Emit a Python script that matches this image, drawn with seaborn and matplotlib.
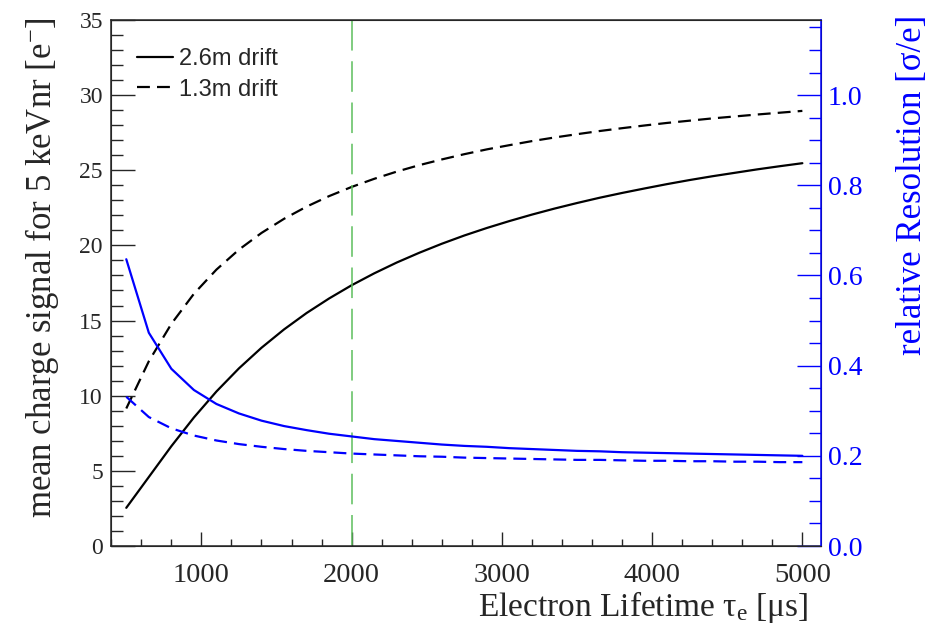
import numpy as np
import pandas as pd
import matplotlib
matplotlib.use("Agg")
import matplotlib.pyplot as plt
from matplotlib.ticker import MultipleLocator, FormatStrFormatter
import seaborn as sns

# ---- data ----
lifetime = [500, 650, 800, 950, 1100, 1250, 1400, 1550, 1700, 1850, 2000,
            2150, 2300, 2450, 2600, 2750, 2900, 3050, 3200, 3350, 3500,
            3650, 3800, 3950, 4100, 4250, 4400, 4550, 4700, 4850, 5000]
charge_26 = [2.54, 4.59, 6.64, 8.55, 10.28, 11.82, 13.19, 14.41, 15.50, 16.47, 17.35,
             18.14, 18.86, 19.51, 20.11, 20.66, 21.16, 21.62, 22.05, 22.45, 22.82,
             23.17, 23.49, 23.79, 24.08, 24.35, 24.60, 24.83, 25.06, 25.27, 25.47]
charge_13 = [9.15, 12.29, 14.78, 16.78, 18.39, 19.72, 20.83, 21.77, 22.58, 23.28, 23.89,
             24.43, 24.91, 25.34, 25.72, 26.07, 26.39, 26.67, 26.94, 27.18, 27.40,
             27.61, 27.80, 27.98, 28.15, 28.30, 28.45, 28.58, 28.71, 28.83, 28.95]
res_26 = [0.636, 0.473, 0.393, 0.346, 0.315, 0.294, 0.278, 0.266, 0.257, 0.249, 0.243,
          0.237, 0.233, 0.229, 0.225, 0.222, 0.220, 0.217, 0.215, 0.213, 0.211,
          0.210, 0.208, 0.207, 0.206, 0.205, 0.204, 0.203, 0.202, 0.201, 0.200]
res_13 = [0.331, 0.286, 0.261, 0.245, 0.234, 0.226, 0.220, 0.215, 0.211, 0.208, 0.205,
          0.203, 0.201, 0.199, 0.198, 0.196, 0.195, 0.194, 0.193, 0.192, 0.191,
          0.191, 0.190, 0.189, 0.189, 0.188, 0.188, 0.187, 0.187, 0.186, 0.186]
marker_lifetime = 2000
series_labels = ["2.6m drift", "1.3m drift"]

df = pd.DataFrame({"tau": lifetime, "q26": charge_26, "q13": charge_13,
                   "r26": res_26, "r13": res_13})

sns.set_style("ticks")
plt.rcParams["font.family"] = ["Liberation Serif", "DejaVu Serif"]
plt.rcParams["mathtext.fontset"] = "custom"
plt.rcParams["mathtext.rm"] = "Liberation Serif"
plt.rcParams["mathtext.it"] = "Liberation Serif:italic"

BLUE = "#0000ff"
fig = plt.figure(figsize=(9.31, 6.24), dpi=100)
ax = fig.add_axes([0.1195, 0.125, 0.7625, 0.843])
ax2 = ax.twinx()

sns.lineplot(data=df, x="tau", y="q26", ax=ax, color="black", lw=1.6, label=series_labels[0])
sns.lineplot(data=df, x="tau", y="q13", ax=ax, color="black", lw=1.6, label=series_labels[1])
ax.lines[-1].set_dashes([5.8, 3.2])
sns.lineplot(data=df, x="tau", y="r26", ax=ax2, color=BLUE, lw=1.6)
sns.lineplot(data=df, x="tau", y="r13", ax=ax2, color=BLUE, lw=1.6)
ax2.lines[-1].set_dashes([5.8, 3.2])

vl = ax.axvline(marker_lifetime, ymin=1, ymax=0, color="#5cbf5c", lw=1.1, dashes=[20, 7])

ax.set_xlim(400, 5125)
ax.set_ylim(0, 35)
ax2.set_ylim(0, 35 / 30)

ax.xaxis.set_major_locator(MultipleLocator(1000))
ax.xaxis.set_minor_locator(MultipleLocator(200))
ax.yaxis.set_major_locator(MultipleLocator(5))
ax.yaxis.set_minor_locator(MultipleLocator(1))
ax2.yaxis.set_major_locator(MultipleLocator(0.2))
ax2.yaxis.set_minor_locator(MultipleLocator(0.05))
ax2.yaxis.set_major_formatter(FormatStrFormatter("%.1f"))

ax.tick_params(axis="y", which="major", direction="in", length=17, width=1, labelsize=17, pad=6, right=False)
ax.tick_params(axis="y", which="minor", direction="in", length=8.5, width=1, right=False)
ax.tick_params(axis="x", which="major", direction="in", length=10, width=1, labelsize=20.5, pad=12, top=False)
ax.tick_params(axis="x", which="minor", direction="in", length=5, width=1, top=False)
ax2.tick_params(axis="y", which="major", direction="in", length=17, width=1, colors=BLUE, labelsize=20, pad=5)
ax2.tick_params(axis="y", which="minor", direction="in", length=8.5, width=1, colors=BLUE)
ax2.spines["right"].set_color(BLUE)
for s in ["left", "bottom", "top"]:
    ax.spines[s].set_linewidth(1.1)
ax2.spines["right"].set_linewidth(1.1)

ax.set_xlabel(r"Electron Lifetime $\mathregular{\tau_{e}}$ [$\mathregular{\mu}$s]", fontsize=24, ha="right")
ax.xaxis.set_label_coords(0.982, -0.082)
ax.set_ylabel(r"mean charge signal for 5 keVnr [e$^{\mathregular{-}}$]", fontsize=25, ha="right", va="center")
ax.yaxis.set_label_coords(-0.097, 1.004)
ax2.set_ylabel("relative Resolution [σ/e]", fontsize=25, color=BLUE, ha="right", va="center")
ax2.yaxis.set_label_coords(1.128, 1.01)

leg = ax.legend(loc="upper left", bbox_to_anchor=(0.0366, 0.947), frameon=False, borderpad=0,
                borderaxespad=0, prop={"family": "Liberation Sans", "size": 17}, handlelength=1.5,
                handletextpad=0.25, labelspacing=0.37)

fig.savefig("out.png", dpi=100)
